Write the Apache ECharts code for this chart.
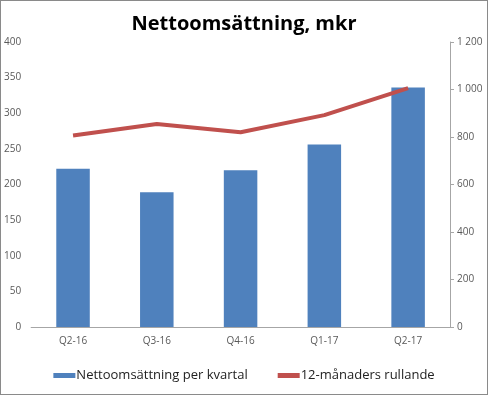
<!DOCTYPE html>
<html><head><meta charset="utf-8">
<script src="https://cdn.jsdelivr.net/npm/echarts@6/dist/echarts.min.js"></script>
<style>html,body{margin:0;padding:0;background:#fff}#c{width:486px;height:393px;border:1px solid #8a8a8a}</style>
</head><body><div id="c"></div>
<script>
const categories = ['Q2-16','Q3-16','Q4-16','Q1-17','Q2-17'];
const quarterly = [222, 189, 220, 256, 336];
const rolling12 = [806, 855, 820, 892, 1006];
const leftTicks = [0,50,100,150,200,250,300,350,400];
const rightTicks = [0,200,400,600,800,1000,1200];
const seriesNames = ['Nettoomsättning per kvartal','12-månaders rullande'];
const titleText = 'Nettoomsättning, mkr';

const chart = echarts.init(document.getElementById('c'));
const fmt = v => String(v).replace(/\B(?=(\d{3})+(?!\d))/g, ' ');
const font = "'Open Sans', sans-serif";
chart.setOption({
  animation:false,
  title:{text:titleText,left:'center',top:8,textStyle:{fontFamily:font,fontWeight:'bold',fontSize:20,color:'#000'}},
  grid:{left:29,right:37,top:41,bottom:67},
  legend:{bottom:7,left:'center',itemWidth:22,itemHeight:5,itemGap:30,
    textStyle:{fontFamily:font,fontSize:13,color:'#222',padding:[0,0,0,-4]},
    data:[{name:seriesNames[0],icon:'rect'},{name:seriesNames[1],icon:'rect'}]},
  xAxis:{type:'category',data:categories,
    axisLine:{lineStyle:{color:'#a6a6a6'}},axisTick:{show:false},
    axisLabel:{fontFamily:font,fontSize:10,color:'#595959',margin:9}},
  yAxis:[
    {type:'value',min:leftTicks[0],max:leftTicks[leftTicks.length-1],interval:50,
     axisLine:{show:false},axisTick:{show:false},splitLine:{show:false},
     axisLabel:{fontFamily:font,fontSize:10,color:'#595959',margin:10}},
    {type:'value',position:'right',min:rightTicks[0],max:rightTicks[rightTicks.length-1],interval:200,
     axisLine:{show:true,lineStyle:{color:'#a6a6a6'}},axisTick:{show:true,length:4,lineStyle:{color:'#a6a6a6'}},
     splitLine:{show:false},
     axisLabel:{fontFamily:font,fontSize:10,color:'#595959',margin:7,formatter:fmt}}
  ],
  series:[
    {name:seriesNames[0],type:'bar',data:quarterly,barWidth:'40%',itemStyle:{color:'#4f81bd'},yAxisIndex:0},
    {name:seriesNames[1],type:'line',data:rolling12,yAxisIndex:1,showSymbol:false,symbol:'none',
     lineStyle:{color:'#c0504d',width:4},itemStyle:{color:'#c0504d'}}
  ]
});
</script></body></html>
